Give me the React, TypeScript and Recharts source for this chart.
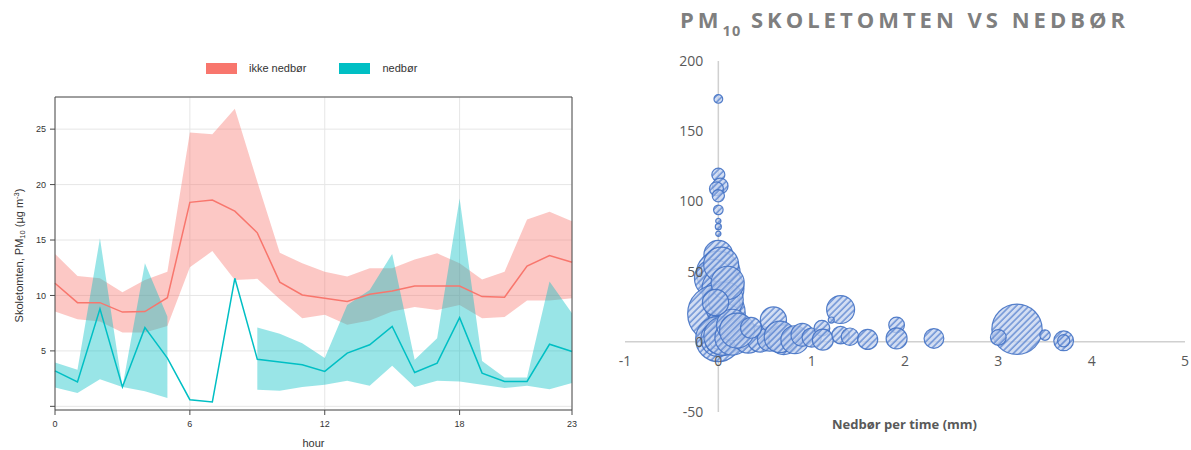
import React from 'react';
import {
  ComposedChart, Area, Line, XAxis, YAxis, CartesianGrid,
  ScatterChart, Scatter, ZAxis, ReferenceLine, ReferenceDot,
} from 'recharts';

// ---------- Left panel: diurnal PM10, with / without precipitation ----------
const hours = [0, 1, 2, 3, 4, 5, 6, 7, 8, 9, 10, 11, 12, 13, 14, 15, 16, 17, 18, 19, 20, 21, 22, 23];
const hourTicks = [0, 6, 12, 18, 23];
const pmTicks = [0, 5, 10, 15, 20, 25];
const seriesNames = ['ikke nedbør', 'nedbør'];
const seriesColors = ['#F8766D', '#00BFC4'];

const dryMean = [11.1, 9.35, 9.35, 8.5, 8.55, 9.8, 18.4, 18.6, 17.6, 15.65, 11.2, 10.05, 9.75, 9.45, 10.1, 10.4, 10.85, 10.85, 10.85, 9.9, 9.85, 12.65, 13.6, 13.0];
const dryLow = [8.55, 7.85, 7.65, 6.65, 6.65, 7.25, 12.55, 14.0, 11.4, 11.5, 9.65, 7.95, 8.25, 7.35, 7.75, 8.55, 8.95, 8.7, 9.15, 7.95, 8.05, 9.55, 9.55, 9.75];
const dryHigh = [13.75, 11.75, 11.55, 10.3, 11.4, 12.15, 24.7, 24.55, 26.85, 20.25, 13.85, 12.9, 12.15, 11.7, 12.45, 12.45, 13.25, 13.8, 12.9, 11.45, 12.15, 16.85, 17.55, 16.7];

const wetMean = [3.2, 2.2, 8.8, 1.75, 7.1, 4.35, 0.6, 0.4, 11.55, 4.25, 4.0, 3.75, 3.15, 4.8, 5.55, 7.2, 3.05, 3.9, 8.0, 3.0, 2.25, 2.25, 5.6, 4.95];
const wetLow = [1.7, 1.2, 2.45, 1.75, 1.35, 0.75, null, null, null, 1.5, 1.4, 1.75, 1.95, 2.3, 1.85, 3.65, 1.75, 2.3, 2.25, 1.95, 1.65, 1.85, 1.55, 2.1];
const wetHigh = [3.95, 3.3, 15.15, 1.75, 12.9, 8.1, null, null, null, 7.1, 6.55, 5.7, 4.35, 9.15, 10.5, 13.75, 4.2, 6.15, 18.75, 4.1, 2.6, 2.6, 11.25, 8.4];

// ---------- Right panel: bubble chart PM10 vs precipitation ----------
const bubbleX = [0, 0, 0.02, -0.02, 0, 0, 0, 0, 0,
  0, 0, -0.05, 0.05, 0, -0.02, 0.05, 0.1, 0, 0, 0, 0, 0, 0, 0.05, 0.15, 0.25, 0.32, 0.45, 0.55,
  0.59, 0.7, 0.66, 0.82, 0.9, 1.0, 1.11, 1.12, 1.31, 1.21, 1.31, 1.41, 1.6, 1.91, 1.91, 2.31,
  3.2, 3.0, 3.5, 3.7, 3.7,
  0.08, 0.15, 0.2, 0.03, 0.35, 0.1, -0.03];
const bubbleY = [173, 119, 111, 109, 104, 94, 86, 82, 77,
  62, 49, 45, 38, 32, 20, 25, 18, 14, 8, 2, 2, 1, 1, 4, 3, 5, 2.5, 2, 2,
  15.5, 1.5, 3.5, 1.5, 5, 3, 9.7, 1.5, 23, 15.5, 4.8, 3.6, 1.7, 12, 2.4, 2.4,
  8.9, 3.1, 4.8, 0.7, 0.7,
  30, 12, 8, 55, 10, 42, 28];
const bubbleSize = [25, 56, 81, 64, 49, 30, 9, 12, 9,
  272, 625, 484, 576, 324, 1089, 400, 196, 144, 256, 676, 400, 225, 100, 484, 400, 256, 289, 225, 196,
  225, 289, 324, 256, 169, 121, 81, 144, 256, 12, 100, 100, 132, 81, 144, 128,
  830, 81, 36, 128, 49,
  400, 324, 400, 400, 144, 361, 225];
const bubbleXTicks = [-1, 0, 1, 2, 3, 4, 5];
const bubbleYTicks = [-50, 0, 50, 100, 150, 200];

const RFONT = '"Liberation Sans", Arial, Helvetica, sans-serif';
const XFONT = '"Open Sans", "Noto Sans", sans-serif';

const leftData = hours.map((h, i) => ({
  hour: h,
  dryMean: dryMean[i],
  dryBand: [dryLow[i], dryHigh[i]],
  wetMean: wetMean[i],
  wetBand: wetLow[i] == null || wetHigh[i] == null ? null : [wetLow[i], wetHigh[i]],
}));

const bubbles = bubbleX.map((x, i) => ({ x, y: bubbleY[i], z: bubbleSize[i] }));

const frame = '#4a4a4a';
const tickStyle = { fontSize: 9, fill: '#333', fontFamily: RFONT };

function YLabel(props: any) {
  const vb = props.viewBox || { x: 25, y: 97, width: 30, height: 313 };
  const cx = vb.x - 2.5;
  const cy = vb.y + vb.height / 2 + 2;
  return (
    <text
      x={cx}
      y={cy}
      transform={`rotate(-90, ${cx}, ${cy})`}
      textAnchor="middle"
      fontSize={11}
      fontFamily={RFONT}
      fill="#333"
    >
      <tspan>Skoletomten, PM</tspan>
      <tspan fontSize={7.5} dy={2.5}>10</tspan>
      <tspan dy={-2.5}> (µg m</tspan>
      <tspan fontSize={7.5} dy={-4}>-3</tspan>
      <tspan dy={4}>)</tspan>
    </text>
  );
}

function LeftPanel() {
  return (
    <div style={{ position: 'absolute', left: 0, top: 0, width: 600, height: 450 }}>
      <ComposedChart width={600} height={450} data={leftData} margin={{ top: 89, right: 18, bottom: 10, left: 25 }}>
        <CartesianGrid stroke="#e6e6e6" strokeWidth={1} horizontal vertical />
        <XAxis
          xAxisId={0}
          type="number"
          dataKey="hour"
          domain={[0, 23]}
          ticks={hourTicks}
          height={30}
          tickSize={5}
          tickMargin={6}
          stroke={frame}
          tick={tickStyle}
          label={{ value: 'hour', position: 'insideBottom', offset: -7, fontSize: 11, fill: '#333', fontFamily: RFONT }}
        />
        <XAxis
          xAxisId="top"
          orientation="top"
          type="number"
          dataKey="hour"
          domain={[0, 23]}
          ticks={hourTicks}
          height={8}
          tickSize={5}
          stroke={frame}
          tick={false}
        />
        <YAxis
          yAxisId={0}
          type="number"
          domain={[-0.33, 27.9]}
          allowDataOverflow
          ticks={pmTicks}
          tickFormatter={(v: number) => (v === 0 ? '' : String(v))}
          width={30}
          tickSize={5}
          tickMargin={4}
          stroke={frame}
          tick={tickStyle}
          label={(p: any) => <YLabel {...p} />}
        />
        <YAxis
          yAxisId="right"
          orientation="right"
          type="number"
          domain={[-0.33, 27.9]}
          allowDataOverflow
          ticks={pmTicks}
          width={10}
          tickSize={5}
          stroke={frame}
          tick={false}
        />
        <Area
          type="linear"
          dataKey="dryBand"
          fill={seriesColors[0]}
          fillOpacity={0.4}
          stroke="none"
          isAnimationActive={false}
          activeDot={false}
        />
        <Line
          type="linear"
          dataKey="dryMean"
          stroke={seriesColors[0]}
          strokeWidth={1.5}
          dot={false}
          activeDot={false}
          isAnimationActive={false}
        />
        <Area
          type="linear"
          dataKey="wetBand"
          fill={seriesColors[1]}
          fillOpacity={0.4}
          stroke="none"
          isAnimationActive={false}
          activeDot={false}
        />
        <Line
          type="linear"
          dataKey="wetMean"
          stroke={seriesColors[1]}
          strokeWidth={1.5}
          dot={false}
          activeDot={false}
          isAnimationActive={false}
        />
      </ComposedChart>
      {/* legend */}
      <div style={{ position: 'absolute', left: 206, top: 63, display: 'flex', alignItems: 'center', fontFamily: RFONT, fontSize: 11, color: '#333' }}>
        {seriesNames.map((name, i) => (
          <div key={name} style={{ display: 'flex', alignItems: 'center', marginRight: i === 0 ? 33 : 0 }}>
            <div style={{ width: 31, height: 11, background: seriesColors[i], marginRight: 12 }} />
            <span style={{ lineHeight: '11px' }}>{name}</span>
          </div>
        ))}
      </div>
    </div>
  );
}

function RightPanel() {
  const labelBase = { fill: '#595959', fontSize: 14, fontFamily: XFONT };
  return (
    <div style={{ position: 'absolute', left: 600, top: 0, width: 591, height: 450 }}>
      <svg width={0} height={0} style={{ position: 'absolute' }}>
        <defs>
          <pattern id="hatch" width="4.5" height="4.5" patternUnits="userSpaceOnUse" patternTransform="rotate(45)">
            <rect width="4.5" height="4.5" fill="#c4d2ef" fillOpacity={0.75} />
            <line x1="1" y1="0" x2="1" y2="4.5" stroke="#5b84cf" strokeOpacity={0.8} strokeWidth={1.6} />
          </pattern>
        </defs>
      </svg>
      <div
        style={{
          position: 'absolute', left: 0, width: 591, top: 4, textAlign: 'center',
          fontFamily: XFONT, fontWeight: 700, fontSize: 22, letterSpacing: 4, color: '#7f7f7f',
          paddingLeft: 18, boxSizing: 'border-box', whiteSpace: 'nowrap',
        }}
      >
        PM<span style={{ fontSize: '0.66em', position: 'relative', top: '0.55em', letterSpacing: 1 }}>10</span> SKOLETOMTEN VS NEDBØR
      </div>
      <ScatterChart width={591} height={450} margin={{ top: 61, right: 6, bottom: 38, left: 25 }}>
        <XAxis type="number" dataKey="x" domain={[-1, 5]} hide />
        <YAxis type="number" dataKey="y" domain={[-50, 200]} hide />
        <ZAxis type="number" dataKey="z" domain={[0, 830]} range={[0, 830 * Math.PI]} />
        <ReferenceLine y={0} stroke="#d0d0d0" strokeWidth={1.5} />
        <ReferenceLine x={0} stroke="#d0d0d0" strokeWidth={1.5} />
        <Scatter
          data={bubbles}
          fill="url(#hatch)"
          stroke="#4472C4"
          strokeWidth={1.2}
          strokeOpacity={0.9}
          isAnimationActive={false}
        />
        {bubbleXTicks.map((t) => (
          <ReferenceDot
            key={`xt${t}`}
            x={t}
            y={0}
            r={0}
            stroke="none"
            fill="none"
            label={{ value: String(t), position: 'bottom', offset: 14, ...labelBase }}
          />
        ))}
        {bubbleYTicks.map((t) => (
          <ReferenceDot
            key={`yt${t}`}
            x={0}
            y={t}
            r={0}
            stroke="none"
            fill="none"
            label={{ value: String(t), position: 'left', offset: 15, ...labelBase }}
          />
        ))}
      </ScatterChart>
      <div
        style={{
          position: 'absolute', left: 0, width: 591, top: 415, textAlign: 'center',
          fontFamily: XFONT, fontWeight: 700, fontSize: 13, color: '#595959', paddingLeft: 18, boxSizing: 'border-box',
        }}
      >
        Nedbør per time (mm)
      </div>
    </div>
  );
}

export default function App() {
  return (
    <div style={{ position: 'absolute', left: 0, top: 0, width: 1191, height: 450, background: '#fff' }}>
      <LeftPanel />
      <RightPanel />
    </div>
  );
}
